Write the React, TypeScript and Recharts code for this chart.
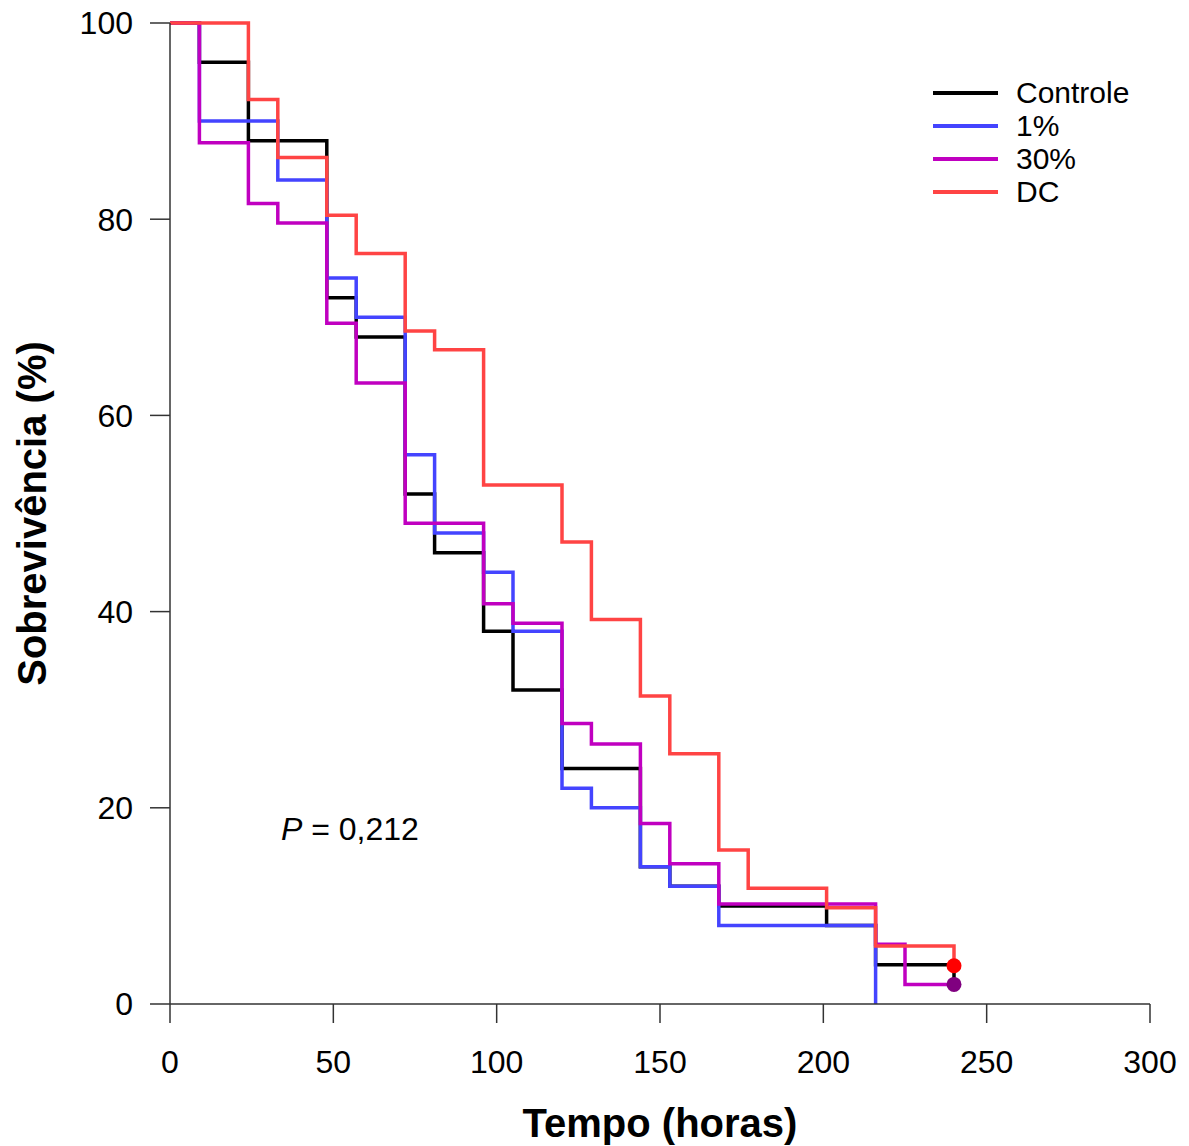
import { LineChart, Line, XAxis, YAxis } from "recharts";

// tempos (horas) e sobrevivência (%) de cada grupo
const controleTempo = [0, 9, 24, 48, 57, 72, 81, 96, 105, 120, 144, 153, 168, 201, 216, 240];
const controleSobrev = [100, 96, 88, 72, 68, 52, 46, 38, 32, 24, 14, 12, 10, 8, 4, 2];

const umTempo = [0, 9, 33, 48, 57, 72, 81, 96, 105, 120, 129, 144, 153, 168, 216];
const umSobrev = [100, 90, 84, 74, 70, 56, 48, 44, 38, 22, 20, 14, 12, 8, 0];

const trintaTempo = [0, 9, 24, 33, 48, 57, 72, 96, 105, 120, 129, 144, 153, 168, 216, 225, 240];
const trintaSobrev = [100, 87.8, 81.6, 79.6, 69.4, 63.3, 49.0, 40.8, 38.8, 28.6, 26.5, 18.4, 14.3, 10.2, 6.1, 2.0, 2.0];

const dcTempo = [0, 24, 33, 48, 57, 72, 81, 96, 120, 129, 144, 153, 168, 177, 201, 216, 240];
const dcSobrev = [100, 92.2, 86.3, 80.4, 76.5, 68.6, 66.7, 52.9, 47.1, 39.2, 31.4, 25.5, 15.7, 11.8, 9.8, 5.9, 3.9];

const xTicks = [0, 50, 100, 150, 200, 250, 300];
const yTicks = [0, 20, 40, 60, 80, 100];

const font = "'Liberation Sans', Arial, sans-serif";

const toRows = (tempo: number[], sobrev: number[]) =>
  tempo.map((t, i) => ({ t, s: sobrev[i] }));

const series = [
  { name: "Controle", data: toRows(controleTempo, controleSobrev), color: "#000000", endDot: null },
  { name: "1%", data: toRows(umTempo, umSobrev), color: "#4444FF", endDot: null },
  { name: "30%", data: toRows(trintaTempo, trintaSobrev), color: "#C000C0", endDot: "#800080" },
  { name: "DC", data: toRows(dcTempo, dcSobrev), color: "#FF4444", endDot: "#FF0000" },
];

const makeDot = (last: number, fill: string | null) => (props: any) => {
  if (fill && props.index === last) {
    return <circle key={`d-${props.index}`} cx={props.cx} cy={props.cy} r={7.5} fill={fill} />;
  }
  return <g key={`d-${props.index}`} />;
};

const App = () => {
  return (
    <div style={{ position: "absolute", left: 0, top: 0, width: 1189, height: 1146, background: "#fff" }}>
      <LineChart
        width={1189}
        height={1146}
        margin={{ top: 23, right: 39, left: 20, bottom: 82 }}
      >
        <XAxis
          dataKey="t"
          type="number"
          domain={[0, 300]}
          ticks={xTicks}
          allowDuplicatedCategory={false}
          height={60}
          tickSize={19}
          tickMargin={27}
          stroke="#333"
          strokeWidth={1.5}
          tick={{ fill: "#000", fontSize: 32, fontFamily: font }}
          label={{
            value: "Tempo (horas)",
            position: "bottom",
            offset: 45,
            style: { fontSize: 40, fontWeight: "bold", fontFamily: font, fill: "#000" },
          }}
        />
        <YAxis
          dataKey="s"
          type="number"
          domain={[0, 100]}
          ticks={yTicks}
          width={150}
          tickSize={20}
          tickMargin={17}
          stroke="#333"
          strokeWidth={1.5}
          tick={{ fill: "#000", fontSize: 32, fontFamily: font }}
          label={{
            value: "Sobrevivência (%)",
            angle: -90,
            position: "insideLeft",
            offset: 12,
            style: { fontSize: 40, fontWeight: "bold", fontFamily: font, fill: "#000", textAnchor: "middle" },
          }}
        />
        {series.map((s) => (
          <Line
            key={s.name}
            data={s.data}
            dataKey="s"
            name={s.name}
            type="stepAfter"
            stroke={s.color}
            strokeWidth={3.5}
            dot={makeDot(s.data.length - 1, s.endDot)}
            activeDot={false}
            isAnimationActive={false}
          />
        ))}
      </LineChart>

      <div style={{ position: "absolute", left: 0, top: 0, fontFamily: font, fontSize: 30, color: "#000" }}>
        {series.map((s, i) => (
          <div key={s.name} style={{ position: "absolute", left: 933, top: 76 + i * 33, height: 34, width: 240, display: "flex", alignItems: "center", whiteSpace: "nowrap" }}>
            <div style={{ width: 65, height: 4, background: s.color, marginRight: 18 }} />
            <span>{s.name}</span>
          </div>
        ))}
        <div style={{ position: "absolute", left: 281, top: 811, whiteSpace: "nowrap", lineHeight: "36px", fontSize: 32 }}>
          <i>P</i> = 0,212
        </div>
      </div>
    </div>
  );
};

export default App;
